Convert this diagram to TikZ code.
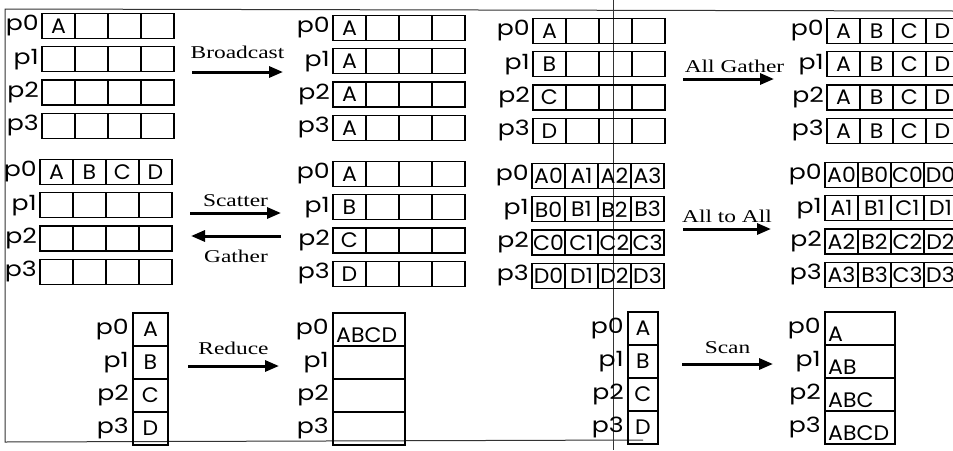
\documentclass[tikz,border=0pt]{standalone}
\usepackage{fontspec}
\setmainfont{Liberation Serif}[FakeStretch=1.3]
\newfontfamily\procfont{Poppins}[FakeStretch=1.05]
\newfontfamily\labelfont{Poppins}[FakeStretch=1.2]
\usepackage{tikz}
\usetikzlibrary{arrows.meta, positioning}

% four processes in a row, four cells each
\newcommand{\rowpanel}[4]{% #1 name, #2 left edge, #3 y of p0, #4 rows r/a/b/c/d
  \foreach \r/\ca/\cb/\cc/\cd in {#4} {
    \node[cell, anchor=west] (#1\r a) at ({#2},{#3+\r*33.3}) {\ca};
    \node[cell, right=0pt of #1\r a] (#1\r b) {\cb};
    \node[cell, right=0pt of #1\r b] (#1\r c) {\cc};
    \node[cell, right=0pt of #1\r c] (#1\r d) {\cd};
    \node[plabel, left=3pt of #1\r a] (#1\r l) {p\r};
  }
}
% one cell per process, stacked
\newcommand{\colpanel}[6]{% #1 name, #2 left edge, #3 top edge, #4 width, #5 text anchor, #6 rows r/text
  \foreach \r/\t in {#6} {
    \node[cell, minimum width=#4, minimum height=33pt, anchor=north west] (#1\r) at ({#2},{#3+\r*33}) {};
    \node[celltext, anchor=#5] (#1\r t) at (#1\r.#5) {\t};
    \node[plabel, left=4pt of #1\r] (#1\r l) {p\r};
  }
}

\begin{document}
\begin{tikzpicture}[x=1pt, y=-1pt,
    cell/.style={draw, line width=1.3pt, minimum width=33pt, minimum height=25pt, inner sep=0pt, outer sep=0pt, font=\procfont\fontsize{21}{21}\selectfont},
    celltext/.style={inner sep=3pt, font=\procfont\fontsize{21}{21}\selectfont},
    plabel/.style={inner sep=0pt, font=\labelfont\fontsize{21}{21}\selectfont},
    oplabel/.style={inner sep=0pt, font=\fontsize{18}{18}\selectfont},
    arrow/.style={-{Triangle[length=14pt, width=11pt]}, line width=3pt},
    frame/.style={line width=1pt, black!80}]

    \clip (0,0) rectangle (953,450);

    % frame
    \draw[frame] (953,11) -- (5,9) -- (5,442) -- (643,440);
    \draw[frame] (613,0) -- (613,450);

    % Broadcast
    \rowpanel{bcA}{42}{26}{0/A/{}/{}/{}, 1/{}/{}/{}/{}, 2/{}/{}/{}/{}, 3/{}/{}/{}/{}}
    \rowpanel{bcB}{333}{28}{0/A/{}/{}/{}, 1/A/{}/{}/{}, 2/A/{}/{}/{}, 3/A/{}/{}/{}}
    \coordinate (bcS) at (192,72);
    \coordinate (bcE) at (283,72);
    \draw[arrow] (bcS) -- (bcE) node[oplabel, midway, above=12pt] (bcT) {Broadcast};

    % All Gather
    \rowpanel{agA}{533}{31}{0/A/{}/{}/{}, 1/B/{}/{}/{}, 2/C/{}/{}/{}, 3/D/{}/{}/{}}
    \rowpanel{agB}{827}{31}{0/A/B/C/D, 1/A/B/C/D, 2/A/B/C/D, 3/A/B/C/D}
    \coordinate (agS) at (683,79);
    \coordinate (agE) at (774,79);
    \draw[arrow] (agS) -- (agE) node[oplabel, midway, above=5pt, xshift=6pt] (agT) {All Gather};

    % Scatter / Gather
    \rowpanel{scA}{40}{172}{0/A/B/C/D, 1/{}/{}/{}/{}, 2/{}/{}/{}/{}, 3/{}/{}/{}/{}}
    \rowpanel{scB}{333}{174}{0/A/{}/{}/{}, 1/B/{}/{}/{}, 2/C/{}/{}/{}, 3/D/{}/{}/{}}
    \coordinate (scS) at (190,213);
    \coordinate (scE) at (281,213);
    \draw[arrow] (scS) -- (scE) node[oplabel, midway, above=5pt] (scT) {Scatter};
    \coordinate (gaS) at (281,236);
    \coordinate (gaE) at (191,236);
    \draw[arrow] (gaS) -- (gaE) node[oplabel, midway, below=13pt] (gaT) {Gather};

    % All to All
    \rowpanel{aaA}{532}{176}{0/A0/A1/A2/A3, 1/B0/B1/B2/B3, 2/C0/C1/C2/C3, 3/D0/D1/D2/D3}
    \rowpanel{aaB}{825}{175}{0/A0/B0/C0/D0, 1/A1/B1/C1/D1, 2/A2/B2/C2/D2, 3/A3/B3/C3/D3}
    \coordinate (aaS) at (683,229);
    \coordinate (aaE) at (771,229);
    \draw[arrow] (aaS) -- (aaE) node[oplabel, midway, above=5pt] (aaT) {All to All};

    % Reduce
    \colpanel{rdA}{133}{313}{35pt}{center}{0/A, 1/B, 2/C, 3/D}
    \colpanel{rdB}{333}{313}{72pt}{south west}{0/ABCD, 1/{}, 2/{}, 3/{}}
    \coordinate (rdS) at (188,366);
    \coordinate (rdE) at (279,366);
    \draw[arrow] (rdS) -- (rdE) node[oplabel, midway, above=10pt] (rdT) {Reduce};

    % Scan
    \colpanel{snA}{628}{312}{30pt}{center}{0/A, 1/B, 2/C, 3/D}
    \colpanel{snB}{825}{312}{70pt}{south west}{0/A, 1/AB, 2/ABC, 3/ABCD}
    \coordinate (snS) at (682,364);
    \coordinate (snE) at (773,364);
    \draw[arrow] (snS) -- (snE) node[oplabel, midway, above=9pt] (snT) {Scan};
\end{tikzpicture}
\end{document}
